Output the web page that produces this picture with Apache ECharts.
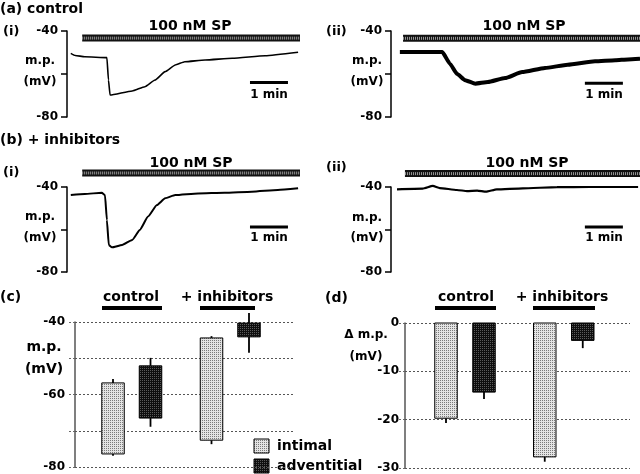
<!DOCTYPE html>
<html><head><meta charset="utf-8">
<script src="https://cdn.jsdelivr.net/npm/echarts@6/dist/echarts.min.js"></script>
<style>html,body{margin:0;padding:0;background:#fff}#c{width:640px;height:474px}</style>
</head><body><div id="c"></div>
<script>
// ---------- DATA ----------
// traces: time (s) and membrane potential (mV)
const traceA1T = [6,13,28,63,65.5,68,103,123,139,155,171,186,218,261,313,365];
const traceA1V = [-50.4,-51.4,-52.0,-52.4,-62.8,-69.8,-67.9,-65.9,-62.8,-58.9,-55.8,-54.3,-53.5,-52.7,-51.5,-49.9];
const traceA2T = [14,81,93,104,117,133,153,180,207,243,279,322,354,374,393];
const traceA2V = [-49.8,-49.8,-55.2,-59.9,-62.9,-64.5,-63.7,-61.9,-59.1,-57.2,-55.7,-54.1,-53.6,-53.2,-52.9];
const traceB1T = [6,28,55,60,63,66,71,87,103,115,128,142,155,171,207,249,292,333,365];
const traceB1V = [-43.8,-43.3,-42.7,-43.8,-55.5,-67.3,-68.4,-67.3,-64.9,-60.2,-53.9,-48.5,-45.3,-43.8,-43.0,-42.7,-42.2,-41.4,-40.6];
const traceB2T = [9.5,50,66,77,104,120,136,150,167,208,262,314,390];
const traceB2V = [-41.1,-40.8,-39.5,-40.5,-41.4,-41.9,-41.7,-42.2,-41.1,-40.6,-40.1,-40.0,-40.0];
// 100 nM SP application bars [start, end] (s) and level (mV)
const spA1 = [24, 368], spA1Level = -43.3;
const spA2 = [19, 393], spA2Level = -43.4;
const spB1 = [24, 368], spB1Level = -33.4;
const spB2 = [22, 393], spB2Level = -33.7;
// 1 min scale bars [start, end] (s) and level (mV)
const scaleA1 = [289, 349], scaleA1Level = -64.0;
const scaleA2 = [306, 366], scaleA2Level = -64.3;
const scaleB1 = [289, 349], scaleB1Level = -58.8;
const scaleB2 = [306, 366], scaleB2Level = -58.8;
// trace axis ticks
const traceTicks = [-40, -80];
// panel (c): m.p. range bars
const categories = ['control', '+ inhibitors'];
const cIntimalTop = [-56.8, -44.4], cIntimalBottom = [-76.4, -72.6];
const cIntimalTopErr = [-55.7, -43.9], cIntimalBottomErr = [-76.9, -73.7];
const cAdvTop = [-52.1, -40.3], cAdvBottom = [-66.5, -44.1];
const cAdvTopErr = [-49.9, -37.5], cAdvBottomErr = [-68.9, -48.5];
const cTicks = [-40, -60, -80];
// panel (d): delta m.p.
const dIntimal = [-19.7, -27.7], dIntimalErr = [-20.7, -28.7];
const dAdv = [-14.3, -3.6], dAdvErr = [-15.7, -5.2];
const dTicks = [0, -10, -20, -30];
const legendNames = ['intimal', 'adventitial'];

// ---------- STYLE ----------
const FONT = '"DejaVu Sans"';
function makePattern(bg, dot) {
  const c = document.createElement('canvas'); c.width = 4; c.height = 4;
  const x = c.getContext('2d');
  x.fillStyle = bg; x.fillRect(0, 0, 4, 4);
  x.fillStyle = dot; x.fillRect(0, 0, 1, 1); x.fillRect(2, 2, 1, 1); x.fillRect(2,0,1,1); x.fillRect(0,2,1,1);
  return { image: c, repeat: 'repeat' };
}
const lightPat = makePattern('#e4e4e4', '#7a7a7a');
const darkPat = makePattern('#0e0e0e', '#5a5a5a');

const zip = (t, v) => t.map((x, i) => [x, v[i]]);

const chart = echarts.init(document.getElementById('c'), null, { renderer: 'canvas' });

function traceY(i) {
  return {
    gridIndex: i, type: 'value', min: -80, max: -40, interval: 20,
    axisLine: { show: true, onZero: false, lineStyle: { color: '#000', width: 1.5 } },
    axisTick: { show: true, inside: false, length: 6, lineStyle: { color: '#000', width: 1.5 } },
    axisLabel: { formatter: v => traceTicks.includes(v) ? String(v) : '', margin: 9, color: '#000',
      fontFamily: FONT, fontWeight: 'bold', fontSize: 12 },
    splitLine: { show: false }
  };
}
function hiddenX(i, max) {
  return { gridIndex: i, type: 'value', min: 0, max: max, show: false };
}
function traceSeries(i, data, w) {
  return { type: 'line', xAxisIndex: i, yAxisIndex: i, data: data, showSymbol: false, symbol: 'none',
    smooth: 0.15, smoothMonotone: 'x',
    lineStyle: { color: '#000', width: w }, clip: false, animation: false, silent: true };
}
function spSeries(i, range, level) {
  const d = [[range[0], level], [range[1], level]];
  return [
    { type: 'line', xAxisIndex: i, yAxisIndex: i, data: d, symbol: 'none', clip: false, animation: false, silent: true,
      lineStyle: { color: '#111', width: 7, cap: 'butt' } },
    { type: 'line', xAxisIndex: i, yAxisIndex: i, data: d, symbol: 'none', clip: false, animation: false, silent: true,
      lineStyle: { color: '#9a9a9a', width: 3, type: [1, 1], cap: 'butt' } }
  ];
}
function scaleSeries(i, range, level) {
  return { type: 'line', xAxisIndex: i, yAxisIndex: i, data: [[range[0], level], [range[1], level]], symbol: 'none',
    clip: false, animation: false, silent: true, lineStyle: { color: '#000', width: 3, cap: 'butt' } };
}

const groupPx = 98.5;
function floatRender(offset, pat) {
  return function (params, api) {
    const g = api.value(0);
    const pT = api.coord([g, api.value(1)]), pB = api.coord([g, api.value(2)]);
    const pTE = api.coord([g, api.value(3)]), pBE = api.coord([g, api.value(4)]);
    const cx = pT[0] + offset, w = 22.5;
    return { type: 'group', children: [
      { type: 'line', shape: { x1: cx, y1: pT[1], x2: cx, y2: pTE[1] }, style: { stroke: '#000', lineWidth: 1.8 } },
      { type: 'line', shape: { x1: cx, y1: pB[1], x2: cx, y2: pBE[1] }, style: { stroke: '#000', lineWidth: 1.8 } },
      { type: 'rect', shape: { x: cx - w / 2, y: pT[1], width: w, height: pB[1] - pT[1] },
        style: { fill: pat, stroke: '#000', lineWidth: 1 } }
    ] };
  };
}
function dropRender(offset, pat) {
  return function (params, api) {
    const g = api.value(0);
    const p0 = api.coord([g, 0]), pV = api.coord([g, api.value(1)]), pE = api.coord([g, api.value(2)]);
    const cx = p0[0] + offset, w = 22.5;
    return { type: 'group', children: [
      { type: 'line', shape: { x1: cx, y1: pV[1], x2: cx, y2: pE[1] }, style: { stroke: '#000', lineWidth: 1.8 } },
      { type: 'rect', shape: { x: cx - w / 2, y: p0[1], width: w, height: pV[1] - p0[1] },
        style: { fill: pat, stroke: '#000', lineWidth: 1 } }
    ] };
  };
}
function barY(i, min, max, ticks, margin) {
  return {
    gridIndex: i, type: 'value', min: min, max: max, interval: 10,
    axisLine: { show: true, onZero: false, lineStyle: { color: '#555', width: 1.5 } },
    axisTick: { show: true, length: 7, lineStyle: { color: '#666', width: 1, type: [2, 2] } },
    axisLabel: { formatter: v => ticks.includes(v) ? String(v) : '', margin: margin, color: '#000',
      fontFamily: FONT, fontWeight: 'bold', fontSize: 12 },
    splitLine: { show: true, lineStyle: { color: '#555', width: 1, type: [2, 2] } }
  };
}

const cInt = categories.map((c, i) => [i, cIntimalTop[i], cIntimalBottom[i], cIntimalTopErr[i], cIntimalBottomErr[i]]);
const cAdv = categories.map((c, i) => [i, cAdvTop[i], cAdvBottom[i], cAdvTopErr[i], cAdvBottomErr[i]]);
const dInt = categories.map((c, i) => [i, dIntimal[i], dIntimalErr[i]]);
const dAd = categories.map((c, i) => [i, dAdv[i], dAdvErr[i]]);

function txt(text, x, y, size, align) {
  return { type: 'text', x: x, y: y, silent: true,
    style: { text: text, fill: '#000', font: 'bold ' + size + 'px ' + FONT, textAlign: align || 'left', textVerticalAlign: 'middle' } };
}
function bar(x1, x2, y) {
  return { type: 'rect', silent: true, shape: { x: x1, y: y - 2, width: x2 - x1, height: 4 }, style: { fill: '#000' } };
}
function swatch(x, y, pat) {
  return { type: 'rect', silent: true, shape: { x: x, y: y, width: 15, height: 14 }, style: { fill: pat, stroke: '#000', lineWidth: 1 } };
}

const option = {
  backgroundColor: '#fff',
  animation: false,
  grid: [
    { left: 67, top: 31, width: 233, height: 86 },
    { left: 391, top: 31, width: 249, height: 86 },
    { left: 67, top: 187, width: 233, height: 85 },
    { left: 391, top: 187, width: 249, height: 85 },
    { left: 75, top: 322, width: 220, height: 145 },
    { left: 405, top: 323, width: 225, height: 145 }
  ],
  xAxis: [
    hiddenX(0, 368), hiddenX(1, 393), hiddenX(2, 368), hiddenX(3, 393),
    { gridIndex: 4, type: 'value', min: -(131.75 - 75) / groupPx, max: -(131.75 - 75) / groupPx + 220 / groupPx, show: false },
    { gridIndex: 5, type: 'value', min: -(465 - 405) / 98.75, max: -(465 - 405) / 98.75 + 225 / 98.75, show: false }
  ],
  yAxis: [traceY(0), traceY(1), traceY(2), traceY(3), barY(4, -80, -40, cTicks, 10), barY(5, -30, 0, dTicks, 6)],
  series: [
    ...spSeries(0, spA1, spA1Level), ...spSeries(1, spA2, spA2Level),
    ...spSeries(2, spB1, spB1Level), ...spSeries(3, spB2, spB2Level),
    traceSeries(0, zip(traceA1T, traceA1V), 1.6),
    traceSeries(1, zip(traceA2T, traceA2V), 4),
    traceSeries(2, zip(traceB1T, traceB1V), 2),
    traceSeries(3, zip(traceB2T, traceB2V), 2.2),
    scaleSeries(0, scaleA1, scaleA1Level), scaleSeries(1, scaleA2, scaleA2Level),
    scaleSeries(2, scaleB1, scaleB1Level), scaleSeries(3, scaleB2, scaleB2Level),
    { name: legendNames[0], type: 'custom', xAxisIndex: 4, yAxisIndex: 4, data: cInt, clip: false,
      encode: { x: 0, y: [1, 2, 3, 4] }, renderItem: floatRender(-18.75, lightPat) },
    { name: legendNames[1], type: 'custom', xAxisIndex: 4, yAxisIndex: 4, data: cAdv, clip: false,
      encode: { x: 0, y: [1, 2, 3, 4] }, renderItem: floatRender(18.75, darkPat) },
    { name: legendNames[0], type: 'custom', xAxisIndex: 5, yAxisIndex: 5, data: dInt, clip: false,
      encode: { x: 0, y: [1, 2] }, renderItem: dropRender(-19, lightPat) },
    { name: legendNames[1], type: 'custom', xAxisIndex: 5, yAxisIndex: 5, data: dAd, clip: false,
      encode: { x: 0, y: [1, 2] }, renderItem: dropRender(19, darkPat) }
  ],
  graphic: [
    txt('(a) control', 0, 9, 14),
    txt('(i)', 3, 32, 13), txt('(ii)', 326, 32, 13),
    txt('100 nM SP', 190, 26, 14, 'center'), txt('100 nM SP', 524, 26, 14, 'center'),
    txt('m.p.', 40, 61, 12, 'center'), txt('(mV)', 40, 82, 12, 'center'),
    txt('m.p.', 367, 61, 12, 'center'), txt('(mV)', 367, 82, 12, 'center'),
    txt('1 min', 269, 95, 12, 'center'), txt('1 min', 604, 95, 12, 'center'),
    txt('(b) + inhibitors', 0, 140, 14),
    txt('(i)', 3, 173, 13), txt('(ii)', 326, 168, 13),
    txt('100 nM SP', 191, 163, 14, 'center'), txt('100 nM SP', 527, 163, 14, 'center'),
    txt('m.p.', 40, 217, 12, 'center'), txt('(mV)', 40, 238, 12, 'center'),
    txt('m.p.', 367, 218, 12, 'center'), txt('(mV)', 367, 238, 12, 'center'),
    txt('1 min', 269, 238, 12, 'center'), txt('1 min', 604, 238, 12, 'center'),
    txt('(c)', 0, 297, 14),
    txt('control', 131, 297, 14, 'center'), bar(102, 162, 308),
    txt('+ inhibitors', 227, 297, 14, 'center'), bar(200, 255, 308),
    txt('m.p.', 44, 347, 14, 'center'), txt('(mV)', 44, 369, 14, 'center'),
    txt('(d)', 325, 298, 14),
    txt('control', 466, 297, 14, 'center'), bar(435, 496, 308),
    txt('+ inhibitors', 562, 297, 14, 'center'), bar(533, 595, 308),
    txt('Δ m.p.', 366, 335, 12, 'center'), txt('(mV)', 366, 357, 12, 'center'),
    swatch(254, 439, lightPat), txt(legendNames[0], 277, 446, 14),
    swatch(254, 459, darkPat), txt(legendNames[1], 277, 466, 14)
  ]
};
chart.setOption(option);
</script></body></html>
